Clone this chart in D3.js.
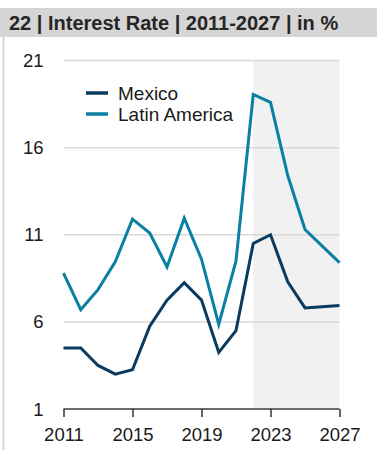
<!DOCTYPE html>
<html>
<head>
<meta charset="utf-8">
<script src="https://cdn.jsdelivr.net/npm/d3@7"></script>
<style>
	body { margin: 0; background: #fff; font-family: "Liberation Sans", Arial, sans-serif; }
	.grid line { stroke: #d9d9d9; stroke-width: 1.5; }
	.axis text { font-size: 18.5px; fill: #1a1a1a; font-family: "Liberation Sans", Arial, sans-serif; }
</style>
</head>
<body>
<div id="chart"></div>
<script>
// values
var years = [2011,2012,2013,2014,2015,2016,2017,2018,2019,2020,2021,2022,2023,2024,2025,2026,2027];
var mexico = [4.5,4.5,3.5,3.0,3.25,5.75,7.25,8.25,7.25,4.25,5.5,10.5,11.0,8.3,6.8,6.87,6.94];
var latam = [8.8,6.7,7.85,9.45,11.9,11.1,9.15,11.95,9.6,5.85,9.5,19.05,18.6,14.4,11.3,10.35,9.4];
var yTicks = [1,6,11,16,21];
var xTicks = [2011,2015,2019,2023,2027];
var forecastStart = 2022;
var seriesNames = ["Mexico","Latin America"];
var colors = ["#0b3a5f","#0a80a2"];

var W = 377, H = 450;
var svg = d3.select("#chart").append("svg").attr("width",W).attr("height",H);

// card: title bar + left border
svg.append("rect").attr("x",0).attr("y",8).attr("width",W).attr("height",29).attr("fill","#d5d5d5");
svg.append("line").attr("x1",3.5).attr("x2",3.5).attr("y1",37).attr("y2",H).attr("stroke","#d5d5d5").attr("stroke-width",2);
svg.append("text").attr("x",9).attr("y",30)
	.style("font-size","20px").style("font-weight","bold").style("fill","#262626")
	.text("22 | Interest Rate | 2011-2027 | in %");

var x = d3.scaleLinear().domain([2011,2027]).range([63.5,339.5]);
var y = d3.scaleLinear().domain([1,21]).range([409,60.5]);

// forecast shading
svg.append("rect")
	.attr("x",x(forecastStart)).attr("y",y(21))
	.attr("width",x(2027)-x(forecastStart)).attr("height",y(1)-y(21))
	.attr("fill","#f1f1f1");

// gridlines
svg.append("g").attr("class","grid")
	.selectAll("line").data(yTicks.slice(1)).enter().append("line")
	.attr("x1",x(2011)).attr("x2",x(2027))
	.attr("y1",function(d){ return y(d); }).attr("y2",function(d){ return y(d); });

// y labels
svg.append("g").attr("class","axis")
	.selectAll("text").data(yTicks).enter().append("text")
	.attr("x",43.5).attr("y",function(d){ return y(d)+6.5; })
	.attr("text-anchor","end")
	.text(function(d){ return d; });

// x axis
var xAxis = d3.axisBottom(x).tickValues(xTicks).tickFormat(d3.format("d")).tickSize(8).tickPadding(6);
var gx = svg.append("g").attr("class","axis").attr("transform","translate(0,"+y(1)+")").call(xAxis);
gx.select(".domain").attr("stroke","#6b6b6b").attr("stroke-width",2).attr("d","M"+x(2011)+",0H"+x(2027));
gx.selectAll(".tick line").attr("stroke","#333").attr("stroke-width",1.5);
gx.selectAll(".tick text").attr("dy","0.95em");

// lines
var line = d3.line()
	.x(function(d,i){ return x(years[i]); })
	.y(function(d){ return y(d); });

[mexico, latam].forEach(function(s, i){
	svg.append("path")
		.attr("d", line(s))
		.attr("fill","none")
		.attr("stroke", colors[i])
		.attr("stroke-width",3)
		.attr("stroke-linejoin","miter");
});

// legend
var legend = svg.append("g").attr("transform","translate(86,93)");
seriesNames.forEach(function(n, i){
	var g = legend.append("g").attr("transform","translate(0,"+(i*21)+")");
	g.append("line").attr("x1",0).attr("x2",22).attr("y1",0).attr("y2",0)
		.attr("stroke",colors[i]).attr("stroke-width",3.5);
	g.append("text").attr("x",32).attr("y",6.5)
		.style("font-size","19px").style("fill","#1a1a1a").text(n);
});
</script>
</body>
</html>
